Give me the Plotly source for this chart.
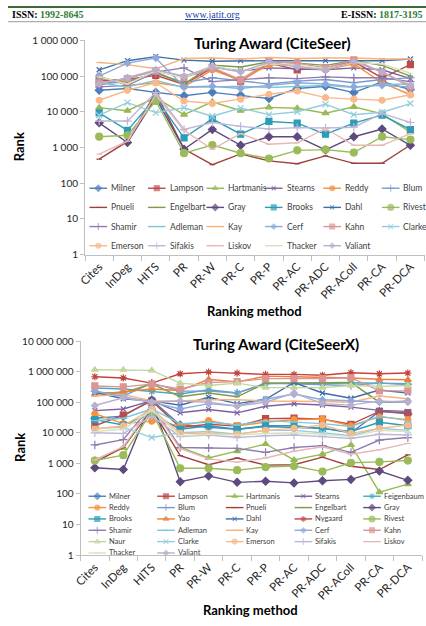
import plotly.graph_objects as go

W, H = 426, 626
FONT = "Lato"

categories = ["Cites", "InDeg", "HITS", "PR", "PR-W", "PR-C", "PR-P", "PR-AC",
              "PR-ADC", "PR-AColl", "PR-CA", "PR-DCA"]

# ---- CiteSeer (top chart) ----
top_names = ["Milner", "Lampson", "Hartmanis", "Stearns", "Reddy", "Blum",
             "Pnueli", "Engelbart", "Gray", "Brooks", "Dahl", "Rivest",
             "Shamir", "Adleman", "Kay", "Cerf", "Kahn", "Clarke",
             "Emerson", "Sifakis", "Liskov", "Thacker", "Valiant"]
top_milner = [40000, 45000, 35000, 28000, 35000, 29000, 23500, 45000, 52000, 34500, 69000, 42000]
top_lampson = [75000, 80000, 105000, 58000, 170000, 72000, 230000, 150000, 170000, 255000, 89000, 208000]
top_hartmanis = [13000, 10700, 25000, 8300, 19000, 10700, 13300, 12500, 9100, 13800, 8700, 2700]
top_stearns = [55000, 90000, 140000, 95000, 180000, 140000, 170000, 160000, 150000, 170000, 150000, 85000]
top_reddy = [100000, 55000, 65000, 50000, 150000, 75000, 210000, 200000, 150000, 220000, 65000, 30000]
top_blum = [60000, 70000, 120000, 65000, 90000, 72000, 60000, 72000, 80000, 65000, 80000, 89000]
top_pnueli = [470, 1480, 35000, 900, 330, 660, 420, 350, 580, 360, 360, 1170]
top_engelbart = [90000, 65000, 130000, 60000, 200000, 180000, 250000, 230000, 200000, 270000, 200000, 100000]
top_gray = [4900, 1380, 25000, 890, 3200, 1150, 2000, 2000, 850, 2000, 3300, 1150]
top_brooks = [9300, 3000, 25000, 1860, 6300, 2350, 5350, 4800, 2350, 4800, 8100, 3150]
top_dahl = [150000, 270000, 350000, 280000, 260000, 270000, 270000, 270000, 270000, 270000, 270000, 300000]
top_rivest = [2000, 2200, 20000, 690, 1170, 690, 490, 830, 870, 720, 2000, 1660]
top_shamir = [50000, 55000, 130000, 170000, 70000, 80000, 90000, 85000, 95000, 90000, 90000, 70000]
top_adleman = [65000, 50000, 75000, 48000, 50000, 52000, 48000, 52000, 55000, 48000, 58000, 60000]
top_kay = [240000, 210000, 160000, 310000, 320000, 300000, 330000, 310000, 320000, 320000, 300000, 300000]
top_cerf = [100000, 230000, 320000, 50000, 52000, 45000, 55000, 65000, 60000, 50000, 55000, 50000]
top_kahn = [65000, 85000, 140000, 90000, 170000, 80000, 255000, 230000, 170000, 285000, 130000, 50000]
top_clarke = [8000, 18000, 9500, 13000, 7500, 12700, 8300, 10000, 16300, 8300, 9700, 17000]
top_emerson = [21000, 40000, 65000, 20000, 17000, 22600, 31000, 38000, 25000, 22600, 21000, 30000]
top_sifakis = [5500, 5500, 35000, 3200, 5000, 3900, 3300, 3600, 3500, 3700, 9000, 5000]
top_liskov = [650, 1500, 30000, 3000, 890, 2450, 1230, 1350, 3400, 1150, 1150, 2450]
top_thacker = [95000, 60000, 140000, 90000, 200000, 130000, 220000, 200000, 160000, 240000, 220000, 120000]
top_valiant = [60000, 90000, 150000, 100000, 180000, 130000, 250000, 180000, 150000, 250000, 130000, 55000]
top_values = [top_milner, top_lampson, top_hartmanis, top_stearns, top_reddy, top_blum,
              top_pnueli, top_engelbart, top_gray, top_brooks, top_dahl, top_rivest,
              top_shamir, top_adleman, top_kay, top_cerf, top_kahn, top_clarke,
              top_emerson, top_sifakis, top_liskov, top_thacker, top_valiant]

# ---- CiteSeerX (bottom chart) ----
bot_names = ["Milner", "Lampson", "Hartmanis", "Stearns", "Feigenbaum",
             "Reddy", "Blum", "Pnueli", "Engelbart", "Gray",
             "Brooks", "Yao", "Dahl", "Nygaard", "Rivest",
             "Shamir", "Adleman", "Kay", "Cerf", "Kahn",
             "Naur", "Clarke", "Emerson", "Sifakis", "Liskov",
             "Thacker", "Valiant"]
bot_milner = [30000, 35000, 120000, 18000, 15000, 13000, 16000, 15000, 14000, 10000, 50000, 42000]
bot_lampson = [17000, 38000, 110000, 15000, 19000, 16500, 29000, 30000, 28000, 19000, 50000, 45000]
bot_hartmanis = [1300, 3200, 70000, 3400, 1500, 2500, 4300, 1300, 2000, 4000, 115, 210]
bot_stearns = [53000, 60000, 112000, 45000, 58000, 45000, 74000, 89000, 81000, 69000, 54000, 50000]
bot_feigenbaum = [290000, 270000, 225000, 185000, 255000, 200000, 400000, 420000, 400000, 430000, 420000, 400000]
bot_reddy = [42000, 20000, 24000, 17000, 25000, 17000, 22000, 27000, 28000, 17000, 33000, 27000]
bot_blum = [230000, 160000, 420000, 230000, 230000, 200000, 420000, 400000, 380000, 350000, 420000, 380000]
bot_pnueli = [1100, 3300, 60000, 1800, 900, 1500, 880, 900, 1600, 810, 630, 1900]
bot_engelbart = [200000, 200000, 400000, 150000, 200000, 150000, 420000, 430000, 430000, 440000, 100000, 100000]
bot_gray = [720, 630, 110000, 250, 390, 240, 260, 230, 270, 300, 560, 280]
bot_brooks = [27000, 18000, 42000, 13000, 17000, 13000, 17000, 17000, 14000, 11000, 22000, 17000]
bot_yao = [180000, 220000, 270000, 240000, 560000, 460000, 710000, 680000, 650000, 620000, 560000, 540000]
bot_dahl = [210000, 130000, 110000, 80000, 145000, 90000, 125000, 440000, 200000, 135000, 250000, 200000]
bot_nygaard = [680000, 620000, 420000, 850000, 960000, 890000, 810000, 810000, 760000, 920000, 850000, 900000]
bot_rivest = [1240, 1850, 50000, 690, 690, 600, 760, 820, 540, 1050, 1120, 1240]
bot_shamir = [4000, 6000, 80000, 3300, 3200, 3100, 2300, 3300, 3800, 2300, 5800, 7000]
bot_adleman = [25000, 30000, 60000, 20000, 22000, 18000, 25000, 23000, 20000, 16000, 35000, 25000]
bot_kay = [160000, 180000, 110000, 110000, 120000, 120000, 110000, 110000, 105000, 100000, 160000, 130000]
bot_cerf = [230000, 150000, 100000, 60000, 90000, 75000, 125000, 185000, 120000, 112000, 100000, 110000]
bot_kahn = [340000, 316000, 390000, 270000, 440000, 470000, 590000, 590000, 590000, 630000, 235000, 235000]
bot_naur = [1150000, 1150000, 1100000, 420000, 350000, 420000, 300000, 300000, 300000, 350000, 330000, 350000]
bot_clarke = [14000, 15000, 7000, 10000, 11000, 9000, 12000, 12000, 10000, 8000, 14000, 12000]
bot_emerson = [13000, 17000, 60000, 9600, 9600, 9000, 12000, 14000, 18000, 9600, 14000, 18000]
bot_sifakis = [10000, 9500, 35000, 7500, 8500, 7000, 8000, 8500, 7500, 6500, 9000, 8500]
bot_liskov = [1300, 3500, 70000, 3000, 1400, 1100, 1500, 2500, 3500, 2000, 2800, 4500]
bot_thacker = [11000, 13000, 55000, 8000, 9000, 8500, 9500, 10000, 9000, 7500, 12000, 11000]
bot_valiant = [78000, 140000, 100000, 110000, 100000, 75000, 100000, 200000, 90000, 80000, 110000, 100000]
bot_values = [bot_milner, bot_lampson, bot_hartmanis, bot_stearns, bot_feigenbaum,
              bot_reddy, bot_blum, bot_pnueli, bot_engelbart, bot_gray,
              bot_brooks, bot_yao, bot_dahl, bot_nygaard, bot_rivest,
              bot_shamir, bot_adleman, bot_kay, bot_cerf, bot_kahn,
              bot_naur, bot_clarke, bot_emerson, bot_sifakis, bot_liskov,
              bot_thacker, bot_valiant]

top_ticks = [1, 10, 100, 1000, 10000, 100000, 1000000]
top_ticktext = ["1", "10", "100", "1 000", "10 000", "100 000", "1 000 000"]
bot_ticks = [1, 10, 100, 1000, 10000, 100000, 1000000, 10000000]
bot_ticktext = ["1", "10", "100", "1 000", "10 000", "100 000", "1 000 000", "10 000 000"]

# series styles (colour, marker symbol, marker size)
styles = {
    "Milner": ("#4A7EBB", "diamond", 6),
    "Lampson": ("#BE4B48", "square", 6),
    "Hartmanis": ("#98B954", "triangle-up", 6),
    "Stearns": ("#7D60A0", "x-thin-open", 5),
    "Feigenbaum": ("#46AAC5", "asterisk-open", 6),
    "Reddy": ("#F69240", "circle", 6),
    "Blum": ("#7B9BCF", "cross-thin-open", 6),
    "Pnueli": ("#A0403D", "line-ew-open", 4),
    "Engelbart": ("#7F9A48", "line-ew-open", 4),
    "Gray": ("#5E4A7D", "diamond", 6),
    "Brooks": ("#2C9CB8", "square", 6),
    "Yao": ("#E8813A", "triangle-up", 6),
    "Dahl": ("#3F6DA8", "x-thin-open", 5),
    "Nygaard": ("#C4413E", "asterisk-open", 6),
    "Rivest": ("#9BBB59", "circle", 7),
    "Shamir": ("#8E7CB0", "cross-thin-open", 6),
    "Adleman": ("#7DC6D9", "line-ew-open", 4),
    "Kay": ("#F9B27A", "line-ew-open", 4),
    "Cerf": ("#8EAADB", "diamond", 5),
    "Kahn": ("#D99694", "square", 6),
    "Naur": ("#C3D69B", "triangle-up", 6),
    "Clarke": ("#93CDDD", "x-thin-open", 6),
    "Emerson": ("#FAB98A", "circle", 6),
    "Sifakis": ("#C0B7D6", "cross-thin-open", 6),
    "Liskov": ("#E6B9B8", "line-ew-open", 4),
    "Thacker": ("#D7E4BD", "line-ew-open", 3),
    "Valiant": ("#B7B0CF", "diamond", 5),
}

fig = go.Figure()


def add_series(names, values, xa, ya):
    for name, vals in zip(names, values):
        col, sym, sz = styles[name]
        fig.add_trace(go.Scatter(
            x=categories, y=vals, name=name, mode="lines+markers",
            xaxis=xa, yaxis=ya, showlegend=False,
            line=dict(color=col, width=1.4),
            marker=dict(symbol=sym, size=sz, color=col, line=dict(color=col, width=1.2)),
            cliponaxis=False))


add_series(top_names, top_values, "x", "y")
add_series(bot_names, bot_values, "x2", "y2")

# ---- in-plot legends drawn on a pixel-space overlay axis ----
annotations = []


def add_legend(names, x_start, x_step, y_start, y_step, ncol, fsize, gap):
    for i, name in enumerate(names):
        r, c = divmod(i, ncol)
        x0 = x_start + c * x_step
        yy = y_start + r * y_step
        col, sym, sz = styles[name]
        fig.add_trace(go.Scatter(
            x=[x0, x0 + 9, x0 + 18], y=[yy, yy, yy], mode="lines+markers",
            xaxis="x3", yaxis="y3", showlegend=False, hoverinfo="skip",
            line=dict(color=col, width=1.4),
            marker=dict(symbol=sym, size=[0, max(sz - 1, 3), 0], color=col,
                        line=dict(color=col, width=1.1))))
        annotations.append(dict(
            x=x0 + gap, y=yy, xref="x3", yref="y3", text=name, showarrow=False,
            xanchor="left", yanchor="middle",
            font=dict(family=FONT, size=fsize, color="#404040")))


add_legend(top_names, 83, 59.6, 185.5, 19.5, 6, 8.5, 20)
add_legend(bot_names, 82, 70.0, 499, 11.55, 5, 7.5, 19)

# ---- titles & axis titles ----
def ann(x, y, text, size, bold=True, angle=0, color="#000000", family=FONT, xanchor="center"):
    annotations.append(dict(
        x=x, y=y, xref="x3", yref="y3", text=("<b>%s</b>" % text) if bold else text,
        showarrow=False, textangle=angle, xanchor=xanchor, yanchor="middle",
        font=dict(family=family, size=size, color=color)))


ann(270, 38, "Turing Award (CiteSeer)", 15)
ann(273, 344, "Turing Award (CiteSeerX)", 15)
ann(12, 143, "Rank", 13, angle=-90)
ann(12, 449, "Rank", 13, angle=-90)
ann(251, 310, "Ranking method", 13)
ann(247, 615, "Ranking method", 13)

# page header
ann(2, 9, "ISSN: <span style='color:#2E7D32'>1992-8645</span>", 10, family="Liberation Serif", xanchor="left")
ann(208, 9, "<span style='text-decoration:underline'>www.jatit.org</span>", 10, bold=False,
    color="#1F3F9F", family="Liberation Serif")
ann(424, 9, "E-ISSN: <span style='color:#2E7D32'>1817-3195</span>", 10, family="Liberation Serif",
    xanchor="right")

shapes = [
    dict(type="line", xref="paper", yref="paper", x0=0, x1=1, y0=1 - 1 / H, y1=1 - 1 / H,
         line=dict(color="#3A6B35", width=2)),
    dict(type="line", xref="paper", yref="paper", x0=0, x1=1, y0=1 - 16 / H, y1=1 - 16 / H,
         line=dict(color="#9A9A9A", width=1)),
]

axis_common = dict(showgrid=False, zeroline=False, showline=True, linecolor="#BFBFBF",
                   linewidth=1, ticks="outside", tickcolor="#BFBFBF", fixedrange=True)
xcat = dict(type="category", categoryorder="array", categoryarray=categories,
            range=[-0.5, 11.5], tickangle=-45, tickson="boundaries", ticklen=5,
            tickfont=dict(family=FONT, size=11.5, color="#262626"), **axis_common)
ylog = dict(type="log", ticklen=4, tickfont=dict(family=FONT, size=10, color="#262626"),
            **axis_common)

fig.update_layout(
    width=W, height=H, margin=dict(l=0, r=0, t=0, b=0),
    paper_bgcolor="#FFFFFF", plot_bgcolor="rgba(0,0,0,0)",
    showlegend=False,
    xaxis=dict(domain=[78.5 / W, 424.5 / W], anchor="y", **xcat),
    yaxis=dict(domain=[1 - 253 / H, 1 - 35 / H], anchor="x", range=[0, 6],
               tickvals=top_ticks, ticktext=top_ticktext, **ylog),
    xaxis2=dict(domain=[74 / W, 422 / W], anchor="y2", **xcat),
    yaxis2=dict(domain=[1 - 559 / H, 1 - 341 / H], anchor="x2", range=[0, 7],
                tickvals=bot_ticks, ticktext=bot_ticktext, **ylog),
    xaxis3=dict(domain=[0, 1], range=[0, W], visible=False, anchor="y3", fixedrange=True),
    yaxis3=dict(domain=[0, 1], range=[H, 0], visible=False, anchor="x3", fixedrange=True),
    annotations=annotations,
    shapes=shapes,
)

fig.write_html("out.html")
